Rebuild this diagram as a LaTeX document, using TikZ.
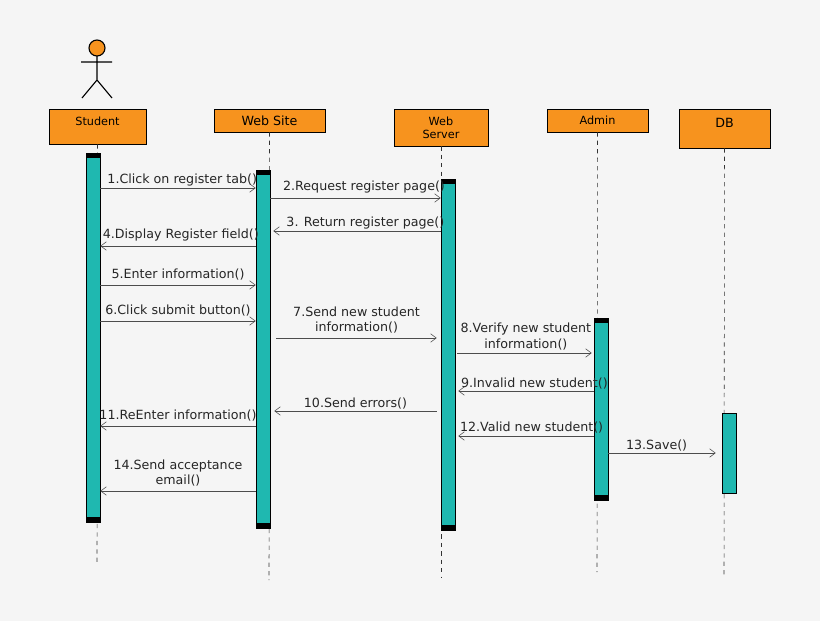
\documentclass[tikz,border=0pt]{standalone}
\usepackage{fontspec}
\setmainfont{DejaVu Sans}
\usetikzlibrary{arrows.meta,positioning}
\definecolor{boxorange}{HTML}{F7931E}
\definecolor{barteal}{HTML}{1FB8B0}
\definecolor{bggray}{HTML}{F5F5F5}
\tikzset{
    obj/.style={rectangle,draw,fill=boxorange,font=\footnotesize,align=center,inner sep=0pt},
    bar/.style={rectangle,draw,fill=barteal,minimum width=14*0.025cm,inner sep=0pt},
    life/.style={dashed,thin,gray!40!black},
    msg/.style={-{Straight Barb[length=4pt,width=6pt]},thin,black!70},
    lbl/.style={font=\small,align=center,text=black!85,inner sep=1pt},
}
\begin{document}
\begin{tikzpicture}[x=0.025cm,y=-0.025cm]
\fill[bggray] (0,0) rectangle (820,621);
\useasboundingbox (0,0) rectangle (820,621);

% actor
\draw[thick,fill=boxorange] (97,48) circle (8*0.025cm);
\draw[thick] (97,56)--(97,80) (81,62)--(112,62) (82,98)--(97,80)--(112,98);

% objects
\node[obj,minimum width=97*0.025cm,minimum height=35*0.025cm] (stu) at (97.5,126.5) {};
\node[font=\footnotesize] at (97.5,121) {Student};
\node[obj,minimum width=111*0.025cm,minimum height=23*0.025cm,font=\small] (web) at (269.5,120.5) {Web Site};
\node[obj,minimum width=94*0.025cm,minimum height=37*0.025cm] (srv) at (441,127.5) {Web\\Server};
\node[obj,minimum width=101*0.025cm,minimum height=23*0.025cm] (adm) at (597.5,120.5) {Admin};
\node[obj,minimum width=91*0.025cm,minimum height=39*0.025cm] (db) at (724.5,128.5) {};
\node[font=\small] at (724.5,123) {DB};

% lifelines
\coordinate (stuE) at (97,565);
\coordinate (webE) at (269,580);
\coordinate (srvE) at (441,577);
\coordinate (admE) at (597,572);
\coordinate (dbE) at (724,578);
\draw[life] (stu)--(stuE);
\draw[life] (web)--(webE);
\draw[life] (srv)--(srvE);
\draw[life] (adm)--(admE);
\draw[life] (db)--(dbE);

% activations
\node[bar,minimum height=369*0.025cm] (aStu) at (93,337.5) {};
\node[bar,minimum height=358*0.025cm] (aWeb) at (263,349) {};
\node[bar,minimum height=351*0.025cm] (aSrv) at (448,354.5) {};
\node[bar,minimum height=182*0.025cm] (aAdm) at (601,409) {};
\node[bar,minimum height=80*0.025cm] (aDb) at (729,453) {};
\foreach \a in {aStu,aWeb,aSrv,aAdm}{
  \fill (\a.north west) rectangle ([yshift=-5*0.025cm]\a.north east);
  \fill (\a.south west) rectangle ([yshift=5*0.025cm]\a.south east);
}

% messages
\draw[msg] (aStu.east|-0,188) -- node[lbl,above,xshift=3pt]{1.Click on register tab()} (aWeb.west|-0,188);
\draw[msg] (aWeb.east|-0,198) -- node[lbl,above,pos=0.55,yshift=2pt]{2.Request register page()} (aSrv.west|-0,198);
\draw[msg] (aSrv.west|-0,231) -- node[lbl,above,pos=0.45]{3. Return register page()} ([xshift=3*0.025cm]aWeb.east|-0,231);
\draw[msg] (aWeb.west|-0,246) -- node[lbl,above,yshift=2pt,xshift=2pt]{4.Display Register field()} (aStu.east|-0,246);
\draw[msg] (aStu.east|-0,285) -- node[lbl,above,yshift=2pt]{5.Enter information()} (aWeb.west|-0,285);
\draw[msg] (aStu.east|-0,321) -- node[lbl,above,yshift=2pt]{6.Click submit button()} (aWeb.west|-0,321);
\draw[msg] ([xshift=6*0.025cm]aWeb.east|-0,338) -- node[lbl,above,yshift=2pt]{7.Send new student\\information()} ([xshift=-4*0.025cm]aSrv.west|-0,338);
\draw[msg] ([xshift=2*0.025cm]aSrv.east|-0,353) -- node[lbl,above,xshift=1pt,yshift=1pt]{8.Verify new student\\information()} ([xshift=-2*0.025cm]aAdm.west|-0,353);
\draw[msg] (aAdm.west|-0,391) -- node[lbl,above,xshift=6pt]{9.Invalid new student()} ([xshift=3*0.025cm]aSrv.east|-0,391);
\draw[msg] ([xshift=-4*0.025cm]aSrv.west|-0,411) -- node[lbl,above]{10.Send errors()} ([xshift=4*0.025cm]aWeb.east|-0,411);
\draw[msg] (aWeb.west|-0,426) -- node[lbl,above,yshift=2pt]{11.ReEnter information()} (aStu.east|-0,426);
\draw[msg] (aAdm.west|-0,436) -- node[lbl,above,xshift=4pt,yshift=1pt]{12.Valid new student()} ([xshift=3*0.025cm]aSrv.east|-0,436);
\draw[msg] (aAdm.east|-0,453) -- node[lbl,above,pos=0.45]{13.Save()} ([xshift=-6*0.025cm]aDb.west|-0,453);
\draw[msg] (aWeb.west|-0,491) -- node[lbl,above,yshift=2pt]{14.Send acceptance\\email()} (aStu.east|-0,491);
\end{tikzpicture}
\end{document}
